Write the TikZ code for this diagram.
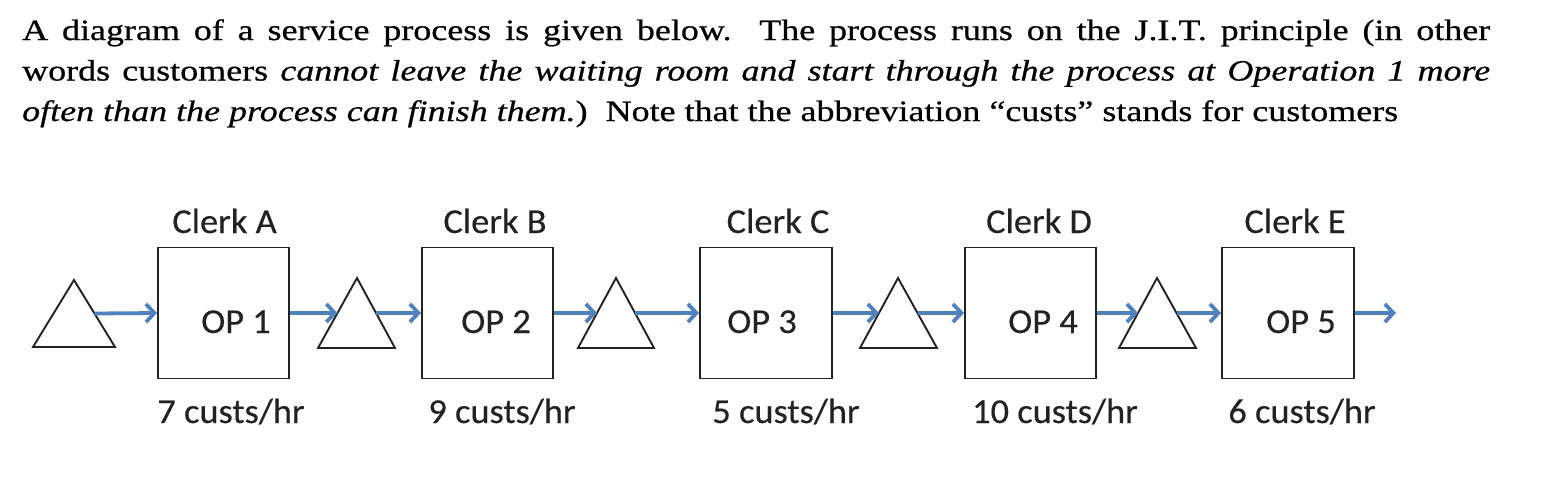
\documentclass[tikz,border=0pt]{standalone}
\usepackage{fontspec}
\setmainfont{Liberation Serif}
\newfontfamily\parafont{Liberation Serif}[FakeStretch=1.22,FakeBold=0.6]
\newfontfamily\carlfont{Carlito}[FakeStretch=1.04,FakeBold=0.35]
\usetikzlibrary{arrows.meta,calc}
\definecolor{flowblue}{HTML}{4F81BD}
\definecolor{inkline}{HTML}{222222}
\begin{document}
\begin{tikzpicture}[x=1pt,y=-1pt,
  opbox/.style={draw=inkline, line width=1.9pt, minimum width=131pt, minimum height=131pt, inner sep=0pt},
  flow/.style={draw=flowblue, line width=3.8pt, -{Straight Barb[length=8.5pt,width=18pt]}},
  lbl/.style={font=\carlfont\fontsize{35}{42}\selectfont, inner sep=0pt, anchor=base, text=inkline},
  queue/.style={draw=inkline, line width=1.9pt, line join=miter}]
\useasboundingbox (0,0) rectangle (1552,488);
% paragraph
\node[anchor=base west, inner sep=0pt, text width=1468pt, align=justify,
      font=\parafont\fontsize{29.5}{40.5}\selectfont] (para) at (22,40)
 {\frenchspacing A diagram of a service process is given below.\ \ The process runs on the J.I.T. principle (in other\linebreak
 words customers \textit{cannot leave the waiting room and start through the process at Operation 1 more\linebreak
 often than the process can finish them.})\ \ Note that the abbreviation “custs” stands for customers};
% boxes
\node[opbox] (b1) at (223.5,313) {};
\node[opbox] (b2) at (487.5,313) {};
\node[opbox, minimum width=132pt] (b3) at (766,313) {};
\node[opbox] (b4) at (1030.5,313) {};
\node[opbox, minimum width=132pt] (b5) at (1288,313) {};
% box texts
\node[lbl] (op1) at (236,333) {OP 1};
\node[lbl] (op2) at (496,333) {OP 2};
\node[lbl] (op3) at (762,333) {OP 3};
\node[lbl] (op4) at (1043,333) {OP 4};
\node[lbl] (op5) at (1301,333) {OP 5};
% clerks
\node[lbl] (ca) at (224.5,233) {Clerk A};
\node[lbl] (cb) at (495,233) {Clerk B};
\node[lbl] (cc) at (778,233) {Clerk C};
\node[lbl] (cd) at (1039,233) {Clerk D};
\node[lbl] (ce) at (1295,233) {Clerk E};
% rates
\node[lbl] (ra) at (231,423) {7 custs/hr};
\node[lbl] (rb) at (502,423) {9 custs/hr};
\node[lbl] (rc) at (786,423) {5 custs/hr};
\node[lbl] (rd) at (1055,423) {10 custs/hr};
\node[lbl] (re) at (1302,423) {6 custs/hr};
% triangles (waiting rooms)
\coordinate (t1a) at (74,280); \coordinate (t1l) at (33,347); \coordinate (t1r) at (115,347);
\coordinate (t2a) at (357,278); \coordinate (t2l) at (318,348); \coordinate (t2r) at (395,348);
\coordinate (t3a) at (616,278); \coordinate (t3l) at (578,348); \coordinate (t3r) at (654,348);
\coordinate (t4a) at (898,278); \coordinate (t4l) at (860,348); \coordinate (t4r) at (937,348);
\coordinate (t5a) at (1157,278); \coordinate (t5l) at (1119,348); \coordinate (t5r) at (1196,348);
\foreach \i in {1,...,5}{
  \draw[queue] (t\i a) -- (t\i l) -- (t\i r) -- cycle;
  \coordinate (t\i in) at ($(t\i a)!0.5!(t\i l)$);
  \coordinate (t\i out) at ($(t\i a)!0.5!(t\i r)$);
}
\coordinate (exit) at (1396,313);
% flows
\draw[flow] (t1out) -- (b1.west);
\draw[flow] (b1.east) -- (t2in);
\draw[flow] (t2out) -- (b2.west);
\draw[flow] (b2.east) -- (t3in);
\draw[flow] (t3out) -- (b3.west);
\draw[flow] (b3.east) -- (t4in);
\draw[flow] (t4out) -- (b4.west);
\draw[flow] (b4.east) -- (t5in);
\draw[flow] (t5out) -- (b5.west);
\draw[flow] (b5.east) -- (exit);
\end{tikzpicture}
\end{document}
